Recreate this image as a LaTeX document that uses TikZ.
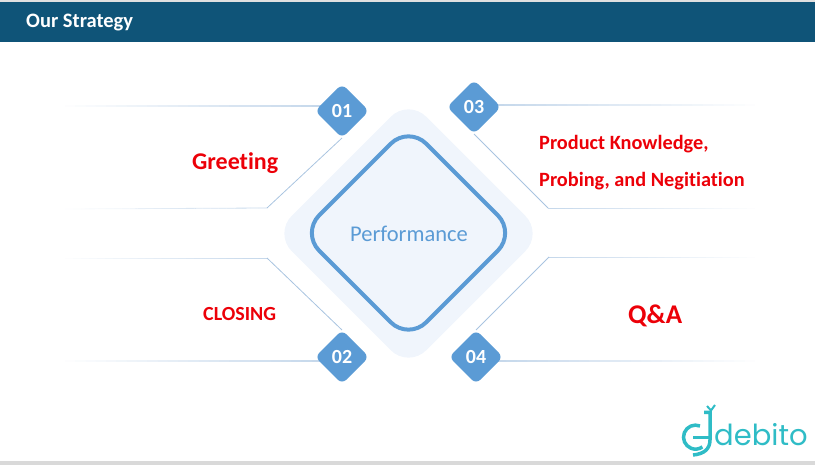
\documentclass[tikz,border=0pt]{standalone}
\usepackage{fontspec}
\setmainfont{Carlito}[Ligatures=CommonOff]
\newfontfamily\logofont{Poppins}
\usetikzlibrary{shapes.geometric,backgrounds,calc,positioning}
\definecolor{kopfblau}{HTML}{0F5478}
\definecolor{hellblau}{HTML}{F0F5FC}
\definecolor{mittelblau}{HTML}{5B9BD5}
\definecolor{linienblau}{HTML}{A9C4E0}
\definecolor{blassblau}{HTML}{C6D8EB}
\definecolor{rotschrift}{HTML}{EC0008}
\definecolor{logotuerkis}{HTML}{2FBCC6}
\tikzset{
  raute/.style={diamond,aspect=1,inner sep=0pt,outer sep=0pt},
  badge/.style={raute,fill=mittelblau,minimum width=54pt,minimum height=54pt,rounded corners=6pt,
    text=white,font=\bfseries\fontsize{20}{20}\selectfont},
  schrift/.style={text=rotschrift,font=\bfseries,inner sep=0pt},
}
\begin{document}
\begin{tikzpicture}[x=1pt,y=-1pt]
\useasboundingbox (0,0) rectangle (815,465);
%Kopfzeile und Fussleiste
\fill[black!12] (0,0) rectangle (815,2);
\fill[kopfblau] (0,2) rectangle (815,42);
\fill[black!15] (0,461) rectangle (815,465);
\node[anchor=west,inner sep=0pt,text=white,font=\bfseries\fontsize{20.5}{20.5}\selectfont] (titel) at (26,22.5) {Our Strategy};
%Mitte
\node[raute,fill=hellblau,minimum width=269pt,minimum height=269pt,rounded corners=25pt] (aussen) at (408.5,233.5) {};
\node[raute,draw=mittelblau,line width=4pt,minimum width=214pt,minimum height=214pt,rounded corners=25pt] (innen) at (408.5,233) {};
\node[text=mittelblau,font=\fontsize{22.5}{22.5}\selectfont] (mitte) at (409,234) {Performance};
%Nummern
\foreach \name/\x/\y in {01/342/111,02/342/357,03/474/107,04/476/357}{
  \node[badge] (b\name) at (\x,\y) {\name};
}
%Knickpunkte und freie Enden
\coordinate (k01) at (267,208);
\coordinate (k02) at (267,258);
\coordinate (k03) at (548,208);
\coordinate (k04) at (549,257);
\coordinate (a01) at (322,106);
\coordinate (a02) at (322,361);
\coordinate (a03) at (494,105);
\coordinate (a04) at (496,361);
\coordinate (e01o) at (65,106);
\coordinate (e01u) at (65,209);
\coordinate (e02o) at (65,258);
\coordinate (e02u) at (65,361);
\coordinate (e03o) at (755,105);
\coordinate (e03u) at (755,208);
\coordinate (e04o) at (755,257);
\coordinate (e04u) at (755,361);
\begin{pgfonlayer}{background}
\foreach \von/\bis/\breite in {e01o/a01/1.2,e01u/k01/0.8,e02o/k02/0.8,e02u/a02/1.2,e03o/a03/1.2,e03u/k03/0.8,e04o/k04/0.8,e04u/a04/1.2}{
  \foreach \f in {0,4,...,96}{
    \pgfmathtruncatemacro\g{\f+4}
    \draw[line width=\breite pt,blassblau!\g!white] ($(\von)!\f/100!(\bis)$) -- ($(\von)!\g/100!(\bis)$);
  }
}
\draw[linienblau,line width=0.8pt] (b01.south) -- (k01);
\draw[linienblau,line width=0.8pt] (b02.north) -- (k02);
\draw[linienblau,line width=0.8pt] (b03.south) -- (k03);
\draw[linienblau,line width=0.8pt] (b04.north) -- (k04);
\end{pgfonlayer}
%Beschriftung
\node[schrift,anchor=west,font=\bfseries\fontsize{24}{24}\selectfont] (greeting) at (192,163) {Greeting};
\node[schrift,anchor=west,font=\bfseries\fontsize{20}{20}\selectfont] (closing) at (203,314) {CLOSING};
\node[schrift,anchor=west,font=\bfseries\fontsize{27}{27}\selectfont] (qa) at (628,316) {Q\&A};
\node[schrift,anchor=west,font=\bfseries\fontsize{20.3}{20.3}\selectfont] (produkt) at (539,144) {Product Knowledge,};
\node[schrift,anchor=west,font=\bfseries\fontsize{20.3}{20.3}\selectfont] (probing) at (539,181) {Probing, and Negitiation};
%Logo
\draw[logotuerkis,line width=3.5pt] (700,426) arc (-68:-305:12);
\draw[logotuerkis,line width=3pt] (693,437) -- (710,437);
\draw[logotuerkis,line width=3.5pt] (704,412.5) -- (710,412.5) -- (710,440) .. controls (710,449) and (704,454) .. (693,455);
\draw[logotuerkis,line width=2pt] (707,406) -- (711,410.5) -- (715,405);
\node[anchor=base west,inner sep=0pt,text=logotuerkis,font=\logofont\fontsize{29}{29}\selectfont] (debito) at (714,446) {debito};
\end{tikzpicture}
\end{document}
